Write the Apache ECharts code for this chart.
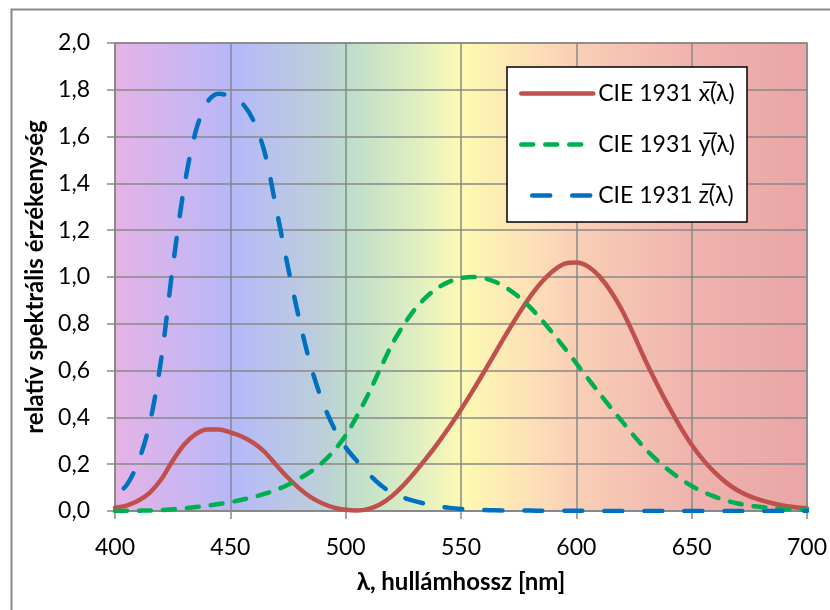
<!DOCTYPE html>
<html>
<head>
<meta charset="utf-8">
<script src="https://cdn.jsdelivr.net/npm/echarts@6/dist/echarts.min.js"></script>
<style>
html,body{margin:0;padding:0;background:#fff;}
#chart{width:830px;height:610px;}
</style>
</head>
<body>
<div id="chart"></div>
<script>
// wavelengths [nm]
const wavelengths = [400,405,410,415,420,425,430,435,440,445,450,455,460,465,470,475,480,485,490,495,500,505,510,515,520,525,530,535,540,545,550,555,560,565,570,575,580,585,590,595,600,605,610,615,620,625,630,635,640,645,650,655,660,665,670,675,680,685,690,695,700];
const xBar = [0.0143,0.0232,0.0435,0.0776,0.1344,0.2148,0.2839,0.3285,0.3483,0.3481,0.3362,0.3187,0.2908,0.2511,0.1954,0.1421,0.0956,0.0580,0.0320,0.0147,0.0049,0.0024,0.0093,0.0291,0.0633,0.1096,0.1655,0.2257,0.2904,0.3597,0.4334,0.5121,0.5945,0.6784,0.7621,0.8425,0.9163,0.9786,1.0263,1.0567,1.0622,1.0456,1.0026,0.9384,0.8544,0.7514,0.6424,0.5419,0.4479,0.3608,0.2835,0.2187,0.1649,0.1212,0.0874,0.0636,0.0468,0.0329,0.0227,0.0158,0.0114];
const yBar = [0.0004,0.0006,0.0012,0.0022,0.0040,0.0073,0.0116,0.0168,0.0230,0.0298,0.0380,0.0480,0.0600,0.0739,0.0910,0.1126,0.1390,0.1693,0.2080,0.2586,0.3230,0.4073,0.5030,0.6082,0.7100,0.7932,0.8620,0.9149,0.9540,0.9803,0.9950,1.0000,0.9950,0.9786,0.9520,0.9154,0.8700,0.8163,0.7570,0.6949,0.6310,0.5668,0.5030,0.4412,0.3810,0.3210,0.2650,0.2170,0.1750,0.1382,0.1070,0.0816,0.0610,0.0446,0.0320,0.0232,0.0170,0.0119,0.0082,0.0057,0.0041];
const zBar = [0.0679,0.1102,0.2074,0.3713,0.6456,1.0391,1.3856,1.6230,1.7471,1.7826,1.7721,1.7441,1.6692,1.5281,1.2876,1.0419,0.8130,0.6162,0.4652,0.3533,0.2720,0.2123,0.1582,0.1117,0.0783,0.0573,0.0422,0.0298,0.0203,0.0134,0.0088,0.0058,0.0039,0.0028,0.0021,0.0018,0.0017,0.0014,0.0011,0.0010,0.0008,0.0006,0.0003,0.0002,0.0002,0.0001,0.0001,0,0,0,0,0,0,0,0,0,0,0,0,0,0];
const seriesNames = ['CIE 1931 x\u0305(\u03bb)','CIE 1931 y\u0305(\u03bb)','CIE 1931 z\u0305(\u03bb)'];
const xTicks = {min:400, max:700, step:50};
const yTicks = {min:0, max:2, step:0.2};
const xTitle = '\u03bb, hull\u00e1mhossz [nm]';
const yTitle = 'relat\u00edv spektr\u00e1lis \u00e9rz\u00e9kenys\u00e9g';

const zip = arr => wavelengths.map((w,i)=>[w,arr[i]]);
const FONT = 'Lato';
const chart = echarts.init(document.getElementById('chart'), null, {renderer:'canvas'});
const gray = '#888888';
chart.setOption({
  animation:false,
  backgroundColor:'#ffffff',
  textStyle:{fontFamily:FONT},
  graphic:[{type:'rect', left:9, top:7, shape:{x:0,y:0,width:840,height:620}, style:{fill:null, stroke:gray, lineWidth:2}, z:-10, silent:true}],
  grid:{left:115, top:43, width:693, height:468, show:true, borderColor:gray, borderWidth:1.5,
    backgroundColor:{type:'linear', x:0, y:0, x2:1, y2:0, colorStops:[
      {offset:0, color:'#e6b3e6'},
      {offset:0.15, color:'#bdb7f6'},
      {offset:0.1667, color:'#b5b8fb'},
      {offset:0.3, color:'#bccfd9'},
      {offset:0.3333, color:'#bcdccb'},
      {offset:0.45, color:'#e5f1c0'},
      {offset:0.5, color:'#fdfab2'},
      {offset:0.6, color:'#fce0b6'},
      {offset:0.6667, color:'#f9cfb6'},
      {offset:0.8333, color:'#efb3ae'},
      {offset:1, color:'#e8a6a6'}]}},
  legend:{orient:'vertical', left:507, top:67, backgroundColor:'#ffffff', borderColor:'#000', borderWidth:1.5, borderRadius:0,
    padding:[15,12,15,12], itemWidth:72, itemHeight:20, itemGap:28,
    itemStyle:{opacity:0},
    lineStyle:{width:4.5, cap:'round'},
    textStyle:{fontFamily:FONT, fontSize:23, color:'#000'}, data:seriesNames},
  xAxis:{type:'value', min:xTicks.min, max:xTicks.max, interval:xTicks.step,
    name:xTitle, nameLocation:'middle', nameGap:59,
    nameTextStyle:{fontFamily:FONT, fontSize:24, fontWeight:'bold', color:'#000'},
    axisLine:{show:true, lineStyle:{color:gray, width:1.5}},
    axisTick:{show:true, length:8, lineStyle:{color:gray, width:1.5}},
    axisLabel:{margin:25, fontFamily:FONT, fontSize:23, color:'#000'},
    splitLine:{show:true, lineStyle:{color:gray, width:1.5}}},
  yAxis:{type:'value', min:yTicks.min, max:yTicks.max, interval:yTicks.step,
    name:yTitle, nameLocation:'middle', nameRotate:90, nameGap:66,
    nameTextStyle:{fontFamily:FONT, fontSize:24, fontWeight:'bold', color:'#000'},
    axisLine:{show:true, lineStyle:{color:gray, width:1.5}},
    axisTick:{show:true, length:8, lineStyle:{color:gray, width:1.5}},
    axisLabel:{margin:25, fontFamily:FONT, fontSize:23, color:'#000', formatter:v=>v.toFixed(1).replace('.',',')},
    splitLine:{show:true, lineStyle:{color:gray, width:1.5}}},
  series:[
    {name:seriesNames[0], type:'line', data:zip(xBar), symbol:'none', smooth:0.3, z:3,
      lineStyle:{color:'#c0504d', width:4.5, cap:'round', join:'round'}, itemStyle:{color:'#c0504d'}},
    {name:seriesNames[1], type:'line', data:zip(yBar), symbol:'none', smooth:0.3, z:4,
      lineStyle:{color:'#00b050', width:4.5, type:[12,12], cap:'round', join:'round'}, itemStyle:{color:'#00b050'}},
    {name:seriesNames[2], type:'line', data:zip(zBar), symbol:'none', smooth:0.3, z:5,
      lineStyle:{color:'#0070c0', width:4.5, type:[18,22], dashOffset:29, cap:'round', join:'round'}, itemStyle:{color:'#0070c0'}}
  ]
});
</script>
</body>
</html>
